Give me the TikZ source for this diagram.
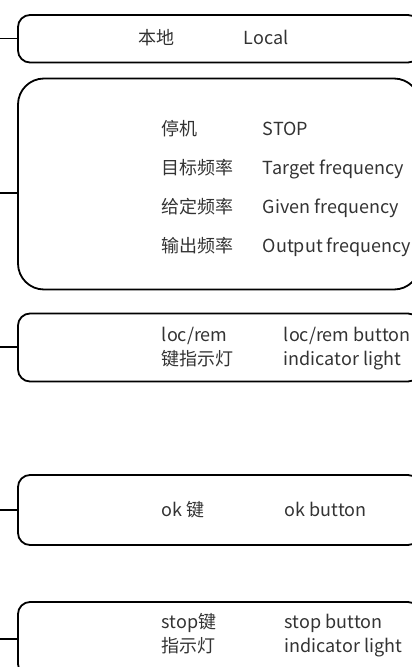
\documentclass[tikz,border=0pt]{standalone}
\usepackage{fontspec}
\setmainfont{Noto Sans CJK SC}
\definecolor{txtgray}{RGB}{51,51,51}
\tikzset{every picture/.style={line width=1.8pt}}
\tikzset{
  panel/.style={draw, rounded corners=12pt, minimum width=402pt, inner sep=0pt},
  bigpanel/.style={panel, rounded corners=26pt},
  lbl/.style={anchor=base west, inner sep=0pt, text=txtgray, font=\fontsize{18}{21}\selectfont}
}

\begin{document}
\begin{tikzpicture}[x=1pt,y=1pt,yscale=-1,xscale=1]
\useasboundingbox (0,0) rectangle (412,667);
\clip (0,0) rectangle (412,667);

%Rounded boxes
\node [panel, minimum height=47.5pt] (local) at (219,38.75) {};
\node [bigpanel, minimum height=211pt] (display) at (219,184) {};
\node [panel, minimum height=68pt] (locrem) at (219,347.5) {};
\node [panel, minimum height=70pt] (okkey) at (219,510) {};
\node [panel, minimum height=74pt] (stopkey) at (219,639) {};

%Straight Lines
\coordinate (s1) at (0,38.5);
\coordinate (s2) at (0,193.3);
\coordinate (s3) at (0,347);
\coordinate (s4) at (0,510);
\coordinate (s5) at (0,639.3);
\draw (s1) -- (s1 -| local.west);
\draw (s2) -- (s2 -| display.west);
\draw (s3) -- (s3 -| locrem.west);
\draw (s4) -- (s4 -| okkey.west);
\draw (s5) -- (s5 -| stopkey.west);

% Text Node
\node [lbl] (localcn) at (138,44.5) {本地};
\node [lbl] (localen) at (243,44.5) {Local};
% Text Node
\node [lbl] (stopcn) at (161,135.5) {停机};
\node [lbl] (stopen) at (262,135.5) {STOP};
\node [lbl] (targetcn) at (161,174.5) {目标频率};
\node [lbl] (targeten) at (262,174.5) {Target frequency};
\node [lbl] (givencn) at (161,213.5) {给定频率};
\node [lbl] (givenen) at (262,213.5) {Given frequency};
\node [lbl] (outputcn) at (161,252.5) {输出频率};
\node [lbl] (outputen) at (262,252.5) {Output frequency};
% Text Node
\node [lbl] (locremcn) at (161,341.5) {loc/rem};
\node [lbl] (locremcnb) at (161,365.5) {键指示灯};
\node [lbl] (locremen) at (283,341.5) {loc/rem button};
\node [lbl] (locremenb) at (283,365.5) {indicator light};
% Text Node
\node [lbl] (okcn) at (161,516.5) {ok 键};
\node [lbl] (oken) at (284,516.5) {ok button};
% Text Node
\node [lbl] (stopkeycn) at (161,628.5) {stop键};
\node [lbl] (stopkeycnb) at (161,652.5) {指示灯};
\node [lbl] (stopkeyen) at (284,628.5) {stop button};
\node [lbl] (stopkeyenb) at (284,652.5) {indicator light};

\end{tikzpicture}
\end{document}
